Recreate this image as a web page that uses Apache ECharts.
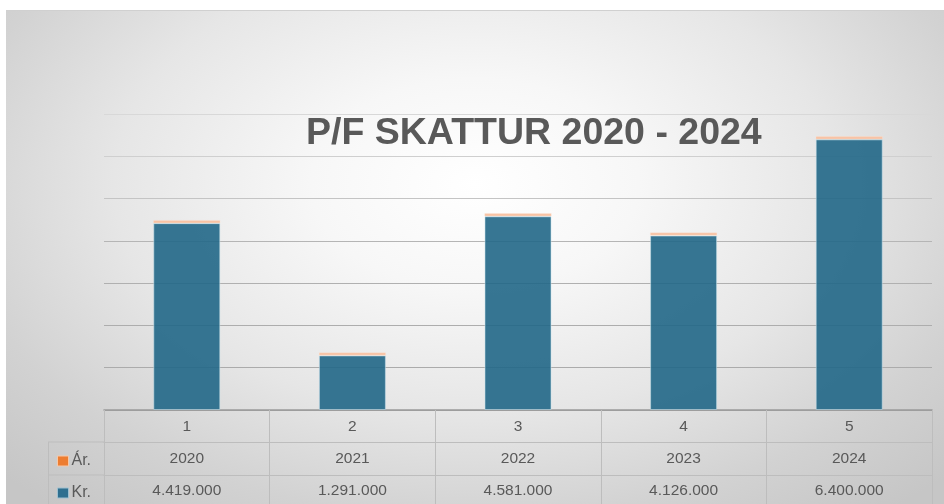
<!DOCTYPE html>
<html>
<head>
<meta charset="utf-8">
<script src="https://cdn.jsdelivr.net/npm/echarts@6/dist/echarts.min.js"></script>
<style>
  html, body { margin: 0; padding: 0; background: #ffffff; }
  #bg { position: absolute; left: 6px; top: 10px; width: 938px; height: 494px;
        border-top: 1px solid #d0d0d0;
        background: radial-gradient(ellipse 70% 85% at 50% 35%, #ffffff 0%, #f7f7f7 25%, #e6e6e6 55%, #d2d2d2 80%, #c6c6c6 100%); }
  #chart { position: absolute; left: 0; top: 0; width: 944px; height: 504px; }
</style>
</head>
<body>
<div id="bg"></div>
<div id="chart"></div>
<script>
// ---- data ----
const categories = ['1', '2', '3', '4', '5'];
const arYears = [2020, 2021, 2022, 2023, 2024];
const krValues = [4419000, 1291000, 4581000, 4126000, 6400000];
const seriesNames = ['Ár.', 'Kr.'];
const titleText = 'P/F SKATTUR 2020 - 2024';

function fmtKr(v) {
  return String(v).replace(/\B(?=(\d{3})+(?!\d))/g, '.');
}

const font = 'Liberation Sans, Arial, sans-serif';
const txt = '#595959';
const tableLine = '#bdbdbd';

const chart = echarts.init(document.getElementById('chart'), null, { renderer: 'canvas' });
chart.setOption({
  backgroundColor: 'transparent',
  animation: false,
  title: {
    text: titleText,
    left: 301, top: 110,
    textStyle: { fontFamily: font, fontWeight: 'bold', fontSize: 37.5, color: txt }
  },
  legend: {
    orient: 'vertical',
    left: 57, top: 453, padding: 0,
    itemWidth: 11, itemHeight: 10, itemGap: 16,
    icon: 'rect',
    textStyle: { fontFamily: font, fontSize: 16, color: txt, padding: [0, 0, 0, -2] },
    data: [
      { name: seriesNames[0], itemStyle: { color: '#ED7D31', borderColor: '#f6c8a8', borderWidth: 1 } },
      { name: seriesNames[1], itemStyle: { color: '#2f6f8f', borderColor: '#9fc0d0', borderWidth: 1 } }
    ]
  },
  grid: { left: 104, right: 12, top: 114, bottom: 94, containLabel: false },
  xAxis: [
    {
      type: 'category', data: categories, position: 'bottom',
      axisLine: { show: true, lineStyle: { color: '#9a9a9a', width: 1.5 } },
      axisTick: { show: true, length: 94, lineStyle: { color: tableLine } },
      axisLabel: { margin: 9, fontFamily: font, fontSize: 15.5, color: txt }
    },
    {
      type: 'category', data: arYears.map(String), position: 'bottom', offset: 32,
      axisLine: { show: true, lineStyle: { color: tableLine } },
      axisTick: { show: false },
      axisLabel: { margin: 9, fontFamily: font, fontSize: 15.5, color: txt }
    },
    {
      type: 'category', data: krValues.map(fmtKr), position: 'bottom', offset: 65,
      axisLine: { show: true, lineStyle: { color: tableLine } },
      axisTick: { show: false },
      axisLabel: { margin: 8, fontFamily: font, fontSize: 15.5, color: txt }
    }
  ],
  yAxis: {
    type: 'value', min: 0, max: 7000000, interval: 1000000,
    axisLabel: { show: false },
    axisLine: { show: false }, axisTick: { show: false },
    splitLine: { show: true, lineStyle: { color: ['#a6a6a6', '#ababab', '#adadad', '#b0b0b0', '#b5b5b5', '#c4c4c4', '#cfcfcf', '#d8d8d8'], width: 1 } }
  },
  series: [
    {
      name: seriesNames[1], type: 'bar', stack: 'a', xAxisIndex: 0,
      data: krValues, barWidth: 67,
      itemStyle: { color: 'rgba(33,103,135,0.9)', borderColor: 'rgba(200,225,235,0.55)', borderWidth: 1 }
    },
    {
      name: seriesNames[0], type: 'bar', stack: 'a', xAxisIndex: 0,
      data: arYears, barWidth: 67, barMinHeight: 3,
      itemStyle: { color: '#f7c3a5', borderColor: 'rgba(255,230,215,0.6)', borderWidth: 0.5 }
    }
  ],
  graphic: [
    { type: 'line', shape: { x1: 48, y1: 442, x2: 104, y2: 442 }, style: { stroke: tableLine, lineWidth: 1 } },
    { type: 'line', shape: { x1: 48, y1: 475, x2: 104, y2: 475 }, style: { stroke: tableLine, lineWidth: 1 } },
    { type: 'line', shape: { x1: 48.5, y1: 442, x2: 48.5, y2: 504 }, style: { stroke: tableLine, lineWidth: 1 } }
  ]
});
</script>
</body>
</html>
